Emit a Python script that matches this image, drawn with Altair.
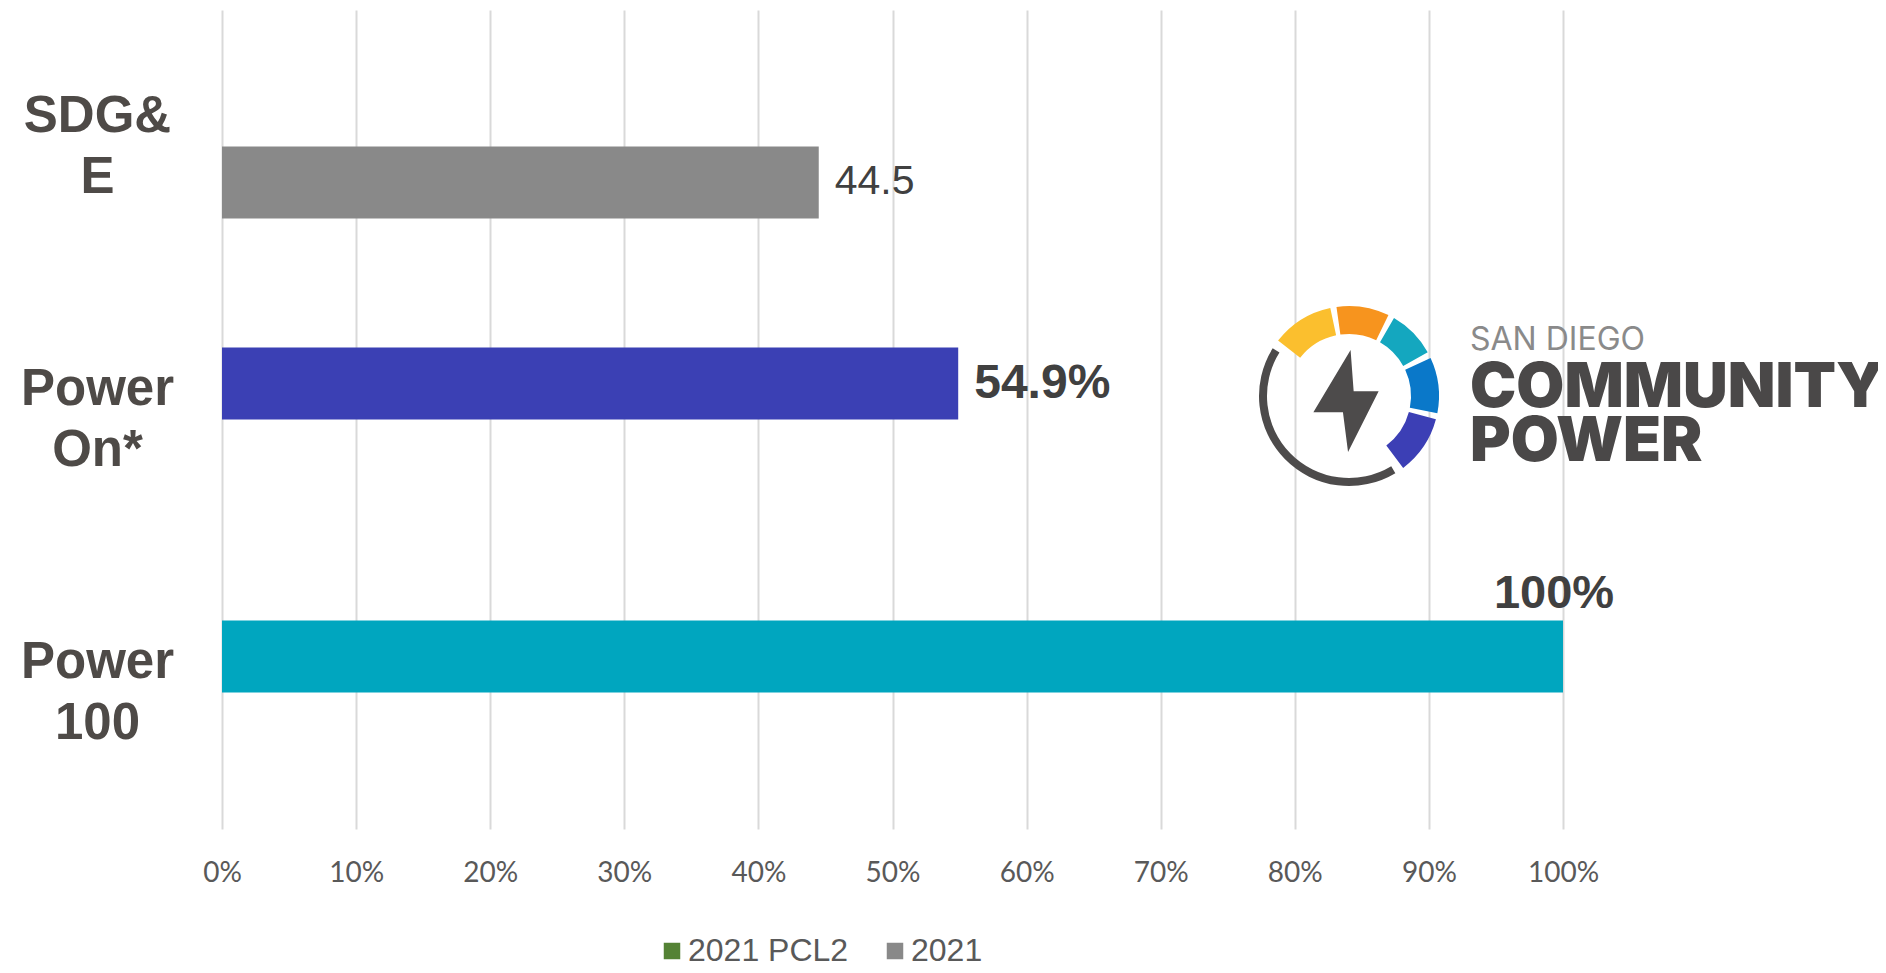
import altair as alt
import pandas as pd

# ---------------- data ----------------
categories = ["SDG&E", "Power On*", "Power 100"]
category_lines = [["SDG&", "E"], ["Power", "On*"], ["Power", "100"]]
series = ["2021", "2021 PCL2", "2021 PCL2"]
values = [44.5, 54.9, 100.0]
value_labels = ["44.5", "54.9%", "100%"]
label_styles = ["regular", "bold", "top"]
color_keys = ["2021", "Power On*", "Power 100"]
legend_names = ["2021 PCL2", "2021"]
color_domain = ["2021 PCL2", "2021", "Power On*", "Power 100"]
color_range = ["#548235", "#898989", "#3B40B4", "#00A6BF"]
x_ticks = [0, 10, 20, 30, 40, 50, 60, 70, 80, 90, 100]

logo_segment_colors = ["#FBBF2E", "#F7941E", "#14A7BF", "#0A78C9", "#3C3FB5", "#4D4B4B"]
logo_segment_start = [308, 352, 30, 65, 105, 149]
logo_segment_end = [348, 386, 61, 101, 143, 302]
logo_segment_inner = [62, 62, 62, 62, 62, 82]
logo_lines = ["SAN DIEGO", "COMMUNITY", "POWER"]

df = pd.DataFrame({
    "category": categories,
    "series": series,
    "value": values,
    "label": value_labels,
    "style": label_styles,
    "color_key": color_keys,
})

W, H = 1341, 819
OX, OY = 222, 10  # plot origin on the page

# y axis multi-line labels
expr = "['" + "','".join(category_lines[-1]) + "']"
for cat, lines in reversed(list(zip(categories[:-1], category_lines[:-1]))):
    expr = f"datum.value == '{cat}' ? ['" + "','".join(lines) + f"'] : {expr}"

y_enc = alt.Y(
    "category:N",
    sort=categories,
    scale=alt.Scale(domain=categories, paddingInner=0, paddingOuter=0),
    axis=alt.Axis(
        title=None, domain=False, ticks=False, tickSize=0, grid=False,
        labelExpr=expr, labelFont="Liberation Sans", labelFontWeight="bold",
        labelFontSize=51, labelColor="#4E4A47", labelAlign="center",
        labelBaseline="middle", labelPadding=125, labelLineHeight=61.5,
        labelOffset=-30, labelLimit=1000,
    ),
)
yoff_enc = alt.YOffset(
    "series:N",
    scale=alt.Scale(domain=legend_names, paddingInner=0, paddingOuter=0.896),
)
x_enc = alt.X(
    "value:Q",
    scale=alt.Scale(domain=[0, 100], nice=False),
    axis=alt.Axis(
        title=None, domain=False, ticks=False, tickSize=0, grid=True,
        gridColor="#D9D9D9", gridWidth=2, values=x_ticks,
        labelExpr="datum.value + '%'", labelFont="Lato", labelFontSize=28,
        labelColor="#595959", labelPadding=30, labelFlush=False,
    ),
)

base = alt.Chart(df)

bars = base.mark_bar().encode(
    y=y_enc,
    yOffset=yoff_enc,
    x=x_enc,
    color=alt.Color(
        "color_key:N",
        scale=alt.Scale(domain=color_domain, range=color_range),
        legend=alt.Legend(
            title=None, orient="none", legendX=434, legendY=925,
            values=legend_names,
            direction="horizontal", symbolType="square", symbolSize=272,
            symbolStrokeWidth=0, labelFont="Liberation Sans", labelFontSize=32,
            labelColor="#595959", labelOffset=0, columnPadding=30, padding=0,
            labelLimit=400,
        ),
    ),
)

lbl_regular = base.transform_filter("datum.style == 'regular'").mark_text(
    align="left", baseline="middle", dx=16, font="Liberation Sans",
    fontSize=41, color="#404040",
).encode(y=y_enc, yOffset=yoff_enc, x=x_enc, text="label:N")

lbl_bold = base.transform_filter("datum.style == 'bold'").mark_text(
    align="left", baseline="middle", dx=16, font="Liberation Sans",
    fontSize=48, fontWeight="bold", color="#404040",
).encode(y=y_enc, yOffset=yoff_enc, x=x_enc, text="label:N")

lbl_top = base.transform_filter("datum.style == 'top'").mark_text(
    align="center", baseline="alphabetic", dx=-9, dy=-49, font="Liberation Sans",
    fontSize=47, fontWeight="bold", color="#404040",
).encode(y=y_enc, yOffset=yoff_enc, x=x_enc, text="label:N")

# ---------------- logo (decoration) ----------------
seg = pd.DataFrame({
    "start": logo_segment_start,
    "end": logo_segment_end,
    "inner": logo_segment_inner,
    "outer": [90] * len(logo_segment_start),
    "color": logo_segment_colors,
})
ring = alt.Chart(seg).transform_calculate(
    a0="datum.start * PI / 180", a1="datum.end * PI / 180"
).mark_arc().encode(
    theta=alt.Theta("a0:Q", scale=None, stack=None),
    theta2="a1:Q",
    radius=alt.Radius("outer:Q", scale=None),
    radius2="inner:Q",
    fill=alt.Fill("color:N", scale=None),
    x=alt.value(1349 - OX),
    y=alt.value(396 - OY),
)

bolt_path = "M 0.09 -1 L -0.64 0.22 L -0.06 0.22 L 0.04 1 L 0.64 -0.19 L 0.15 -0.19 Z"
bolt = alt.Chart(pd.DataFrame({"k": [0]})).mark_point(
    shape=bolt_path, filled=True, size=10400, color="#4D4B4B", opacity=1, strokeWidth=0
).encode(x=alt.value(1346 - OX), y=alt.value(401 - OY))

t1 = alt.Chart(pd.DataFrame({"t": [logo_lines[0]]})).mark_text(
    align="left", baseline="alphabetic", font="Inter", fontSize=32,
    fontWeight=400, color="#8A8A8A",
).encode(x=alt.value(1470 - OX), y=alt.value(350 - OY), text="t:N")
t2 = alt.Chart(pd.DataFrame({"t": [logo_lines[1]]})).mark_text(
    align="left", baseline="alphabetic", font="Inter", fontSize=62,
    fontWeight=900, color="#4A4848",
).encode(x=alt.value(1470 - OX), y=alt.value(406.5 - OY), text="t:N")
t3 = alt.Chart(pd.DataFrame({"t": [logo_lines[2]]})).mark_text(
    align="left", baseline="alphabetic", font="Inter", fontSize=62,
    fontWeight=900, color="#4A4848",
).encode(x=alt.value(1470 - OX), y=alt.value(461 - OY), text="t:N")

chart = alt.layer(
    bars, lbl_regular, lbl_bold, lbl_top, ring, bolt, t1, t2, t3
).properties(
    width=W, height=H,
    autosize=alt.AutoSizeParams(type="none"),
    padding={"left": OX - 8, "top": OY - 8, "right": 1870 - (OX - 8) - W, "bottom": 136},
).configure_view(stroke=None)

chart.save("out.html", embed_options={"renderer": "svg", "actions": False})
